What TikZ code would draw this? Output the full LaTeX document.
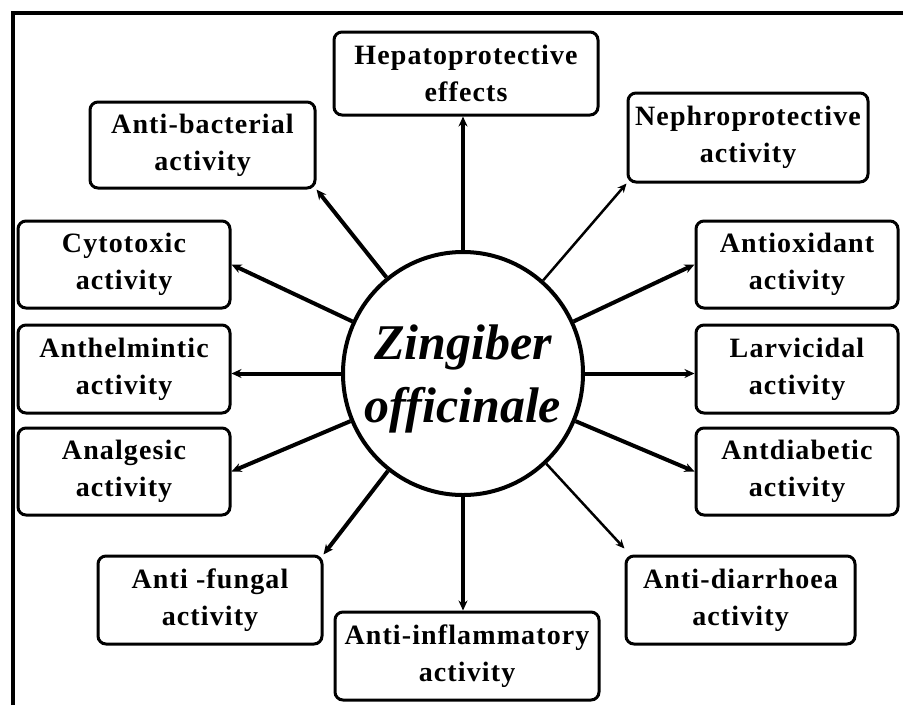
\documentclass[tikz,border=0pt]{standalone}
\usepackage{fontspec}
\setmainfont{Liberation Serif}
\newfontfamily\boxfont[LetterSpace=4]{Liberation Serif}
\usepackage{tikz}
\usetikzlibrary{arrows.meta,positioning,shapes.geometric}
\tikzset{
  act/.style   = {draw, line width=3pt, fill=white, rounded corners=8pt, align=center,
                  inner sep=0pt, font=\boxfont\fontsize{28}{37}\selectfont\bfseries},
  hub/.style   = {ellipse, draw, line width=4pt, inner sep=0pt,
                  minimum width=240pt, minimum height=243pt},
  hubtext/.style = {align=center, inner sep=0pt,
                  font=\fontsize{50}{63}\selectfont\bfseries\itshape},
  link/.style  = {-{Stealth[length=10pt,width=9pt]}, line width=4pt},
  thin/.style  = {-{Stealth[length=9pt,width=8pt]}, line width=2.5pt},
  frame/.style = {line width=4.5pt},
}

\begin{document}
\begin{tikzpicture}[x=1pt,y=-1pt]
  \useasboundingbox[fill=white] (0,0) rectangle (903,705);
  \draw[frame] (13,705) -- (13,13) -- (903,13);
  % centre of the wheel
  \node[hub] (zo) at (463,373.5) {};
  \node[hubtext] (zotxt) at ([yshift=-5pt]zo.center) {Zingiber\\officinale};
  % activities, boxes given by centre and size
  \node[act, minimum width=264pt, minimum height=83pt] (hep)    at (466,73.5) {Hepatoprotective\\effects};
  \node[act, minimum width=225pt, minimum height=86pt] (abac)   at (202.5,145) {Anti-bacterial\\activity};
  \node[act, minimum width=240pt, minimum height=89pt] (neph)   at (748,137.5) {Nephroprotective\\activity};
  \node[act, minimum width=212pt, minimum height=87pt] (cyto)   at (124,264.5) {Cytotoxic\\activity};
  \node[act, minimum width=212pt, minimum height=88pt] (anth)   at (124,369) {Anthelmintic\\activity};
  \node[act, minimum width=212pt, minimum height=87pt] (analg)  at (124,471.5) {Analgesic\\activity};
  \node[act, minimum width=202pt, minimum height=87pt] (antiox) at (797,264.5) {Antioxidant\\activity};
  \node[act, minimum width=202pt, minimum height=88pt] (larv)   at (797,369) {Larvicidal\\activity};
  \node[act, minimum width=202pt, minimum height=87pt] (antdia) at (797,471.5) {Antdiabetic\\activity};
  \node[act, minimum width=224pt, minimum height=88pt] (afung)  at (210,600) {Anti -fungal\\activity};
  \node[act, minimum width=264pt, minimum height=88pt] (ainf)   at (467,656) {Anti-inflammatory\\activity};
  \node[act, minimum width=229pt, minimum height=88pt] (adiar)  at (740.5,600) {Anti-diarrhoea\\activity};
  % spokes
  \draw[link] (zo) -- (zo |- hep.south);
  \draw[link] (zo) -- (abac.south east);
  \draw[thin] (zo) -- (neph.south west);
  \draw[link] (zo) -- (cyto.east);
  \draw[link] (zo) -- (anth.east |- zo);
  \draw[link] (zo) -- (analg.east);
  \draw[link] (zo) -- (antiox.west);
  \draw[link] (zo) -- (larv.west |- zo);
  \draw[link] (zo) -- (antdia.west);
  \draw[link] (zo) -- (afung.north east);
  \draw[link] (zo) -- (zo |- ainf.north);
  \draw[thin] (zo) -- ([yshift=6pt]adiar.north west);
\end{tikzpicture}
\end{document}
